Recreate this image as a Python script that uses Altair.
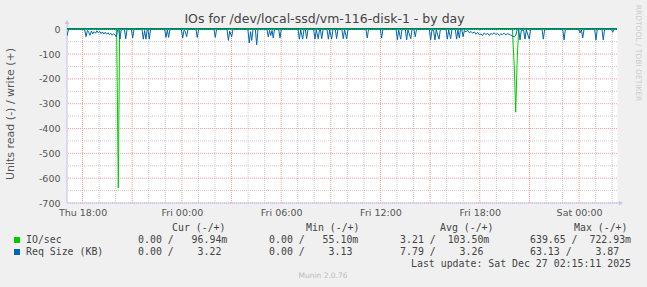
import altair as alt
import pandas as pd

# ---------------- data (time = hours since Thu 2025-12-25 00:00) ----------------
t_start, t_end = 17.06, 50.29

x_tick_hours = [18, 24, 30, 36, 42, 48]
x_tick_labels = ["Thu 18:00", "Fri 00:00", "Fri 06:00", "Fri 12:00", "Fri 18:00", "Sat 00:00"]
y_tick_values = [0, -100, -200, -300, -400, -500, -600, -700]

# IO/sec  (read drawn negative, write positive)
io_read_h = [17.06, 20.06, 20.16, 20.24, 43.97, 44.09, 44.17, 44.26, 44.35, 50.29]
io_read_v = [0, 0, -640, 0, 0, -160, -334, -120, 0, 0]
io_write_h = [17.06, 30.0, 44.0, 50.29]
io_write_v = [0.1, 0.1, 0.1, 0.1]

# Req Size (KB)
req_read_h = [
    17.06, 17.15,
    18.12, 18.21, 18.29, 18.37, 18.45, 18.54, 18.62, 18.70, 18.79, 18.87, 18.95, 19.04,
    19.12, 19.20, 19.29, 19.37, 19.45, 19.54, 19.62, 19.70, 19.79, 19.87, 19.95, 20.04, 20.12,
    20.18, 20.26, 20.34,
    20.53, 20.61, 20.69,
    20.95, 21.03, 21.11,
    21.59, 21.67, 21.75, 21.83, 21.91,
    21.95, 22.03, 22.11,
    22.96, 23.04, 23.12, 23.20, 23.28,
    23.97, 24.05, 24.13, 24.21, 24.29, 24.37,
    24.85, 24.93, 25.01,
    25.94, 26.02, 26.10,
    26.73, 26.81, 26.89, 27.01, 27.09,
    27.99, 28.07, 28.15, 28.22, 28.30,
    28.44, 28.52, 28.60,
    29.14, 29.22, 29.30, 29.37, 29.45, 29.52, 29.60,
    29.85, 29.93, 30.01,
    31.02, 31.10, 31.18, 31.30, 31.38,
    31.46, 31.54, 31.62,
    31.96, 32.04, 32.12, 32.24, 32.32,
    32.37, 32.45, 32.53,
    32.77, 32.85, 32.93, 33.05, 33.13,
    33.27, 33.35, 33.43,
    33.67, 33.75, 33.83, 33.96, 34.04,
    35.12, 35.20, 35.28,
    35.99, 36.07, 36.15,
    36.94, 37.02, 37.10, 37.22, 37.30,
    37.50, 37.58, 37.66, 37.83, 37.91,
    38.02, 38.10, 38.18,
    38.95, 39.03, 39.11, 39.21, 39.29, 39.37, 39.54, 39.62,
    39.96, 40.04, 40.12, 40.24, 40.32,
    40.52, 40.60, 40.68, 40.76, 40.84,
    40.91, 40.99, 41.07, 41.17, 41.27, 41.37, 41.47, 41.57, 41.67, 41.77, 41.87, 41.97,
    42.07, 42.17, 42.27, 42.37, 42.47, 42.57, 42.67, 42.77, 42.87, 42.97, 43.07, 43.17,
    43.27, 43.37, 43.47, 43.57, 43.67, 43.77, 43.87, 43.97, 44.09, 44.17, 44.27,
    44.35, 44.43, 44.51, 44.65, 44.73, 44.81, 44.99, 45.07,
    45.76, 45.84, 45.92,
    47.01, 47.09, 47.17,
    47.98, 48.06, 48.14, 48.22, 48.30,
    48.94, 49.02, 49.10,
    49.38, 49.46, 49.54,
    49.95, 50.03, 50.11, 50.29,
]
req_read_v = [
    -27, 0,
    0, -30, -5, -12, -24, -8, -18, -10, -16, -6, -14, -9,
    -17, -11, -19, -12, -20, -14, -22, -16, -24, -18, -22, -31, 0,
    0, -40, 0,
    0, -38, 0,
    0, -35, 0,
    0, -40, -5, -40, 0,
    0, -40, 0,
    0, -33, -3, -33, 0,
    0, -35, -4, -10, -30, 0,
    0, -33, 0,
    0, -33, 0,
    0, -45, -8, -30, 0,
    0, -55, -10, -45, 0,
    0, -63, 0,
    0, -30, -5, -25, -5, -35, 0,
    0, -35, 0,
    0, -40, -3, -40, 0,
    0, -38, 0,
    0, -40, -3, -38, 0,
    0, -38, 0,
    0, -40, -3, -40, 0,
    0, -38, 0,
    0, -38, -3, -38, 0,
    0, -35, 0,
    0, -35, 0,
    0, -43, -3, -40, 0,
    0, -43, -3, -38, 0,
    0, -30, 0,
    0, -43, -3, -5, -43, -3, -40, 0,
    0, -40, -3, -38, 0,
    0, -40, -3, -35, 0,
    0, -30, -6, -10, -5, -14, -9, -16, -11, -20, -13, -22,
    -19, -25, -15, -21, -17, -24, -18, -20, -14, -22, -17, -25,
    -19, -21, -16, -23, -18, -20, -24, -28, -30, -25, 0,
    0, -43, -3, -5, -40, -3, -40, 0,
    0, -40, 0,
    0, -43, 0,
    0, -15, -3, -35, 0,
    0, -43, 0,
    0, -43, 0,
    0, -12, 0, 0,
]
req_write_h = [17.06, 26.0, 35.0, 44.0, 50.29]
req_write_v = [3.2, 3.3, 3.2, 3.3, 3.22]

# legend table values
legend_names = ["IO/sec", "Req Size (KB)"]
legend_colors = ["#00cc00", "#0066b3"]
col_headers = ["Cur (-/+)", "Min (-/+)", "Avg (-/+)", "Max (-/+)"]
cur_vals = [("0.00", " ", "96.94", "m"), ("0.00", " ", "3.22", " ")]
min_vals = [("0.00", " ", "55.10", "m"), ("0.00", " ", "3.13", " ")]
avg_vals = [("3.21", " ", "103.50", "m"), ("7.79", " ", "3.26", " ")]
max_vals = [("639.65", " ", "722.93", "m"), ("63.13", " ", "3.87", " ")]
title_text = "IOs for /dev/local-ssd/vm-116-disk-1 - by day"
y_title_text = "Units read (-) / write (+)"
last_update_text = "Last update: Sat Dec 27 02:15:11 2025"
munin_text = "Munin 2.0.76"
rrd_text = "RRDTOOL / TOBI OETIKER"

# ---------------- styling ----------------
W, H = 550, 175
GREEN, BLUE = "#00cc00", "#0066b3"
RED_GRID = "#f4a0a0"
GRAY_GRID = "#cfcfcf"
AXIS_COL = "#c4c4ee"
TXT = "#555555"
NB = "\u00a0"

x_label_expr = " : ".join(
    f"datum.value == {h} ? '{l}'" for h, l in zip(x_tick_hours, x_tick_labels)
) + " : ''"

x_enc = alt.X(
    "h:Q",
    scale=alt.Scale(domain=[t_start, t_end], nice=False, zero=False),
    axis=alt.Axis(values=x_tick_hours, labelExpr=x_label_expr, title=None, grid=False,
                  ticks=False, domain=False, labelFont="DejaVu Sans", labelFontSize=9.5,
                  labelColor=TXT, labelPadding=4, labelFlush=False, labelOverlap=False),
)
y_enc = alt.Y(
    "v:Q",
    scale=alt.Scale(domain=[-700, 5], nice=False, zero=False),
    axis=alt.Axis(values=y_tick_values, labelExpr="'' + datum.value", title=None, grid=False,
                  ticks=False, domain=False, labelFont="DejaVu Sans", labelFontSize=9.5,
                  labelColor=TXT, labelPadding=7, labelOverlap=False),
)

major_x = [h for h in range(18, 51) if h % 3 == 0]
minor_x = [h for h in range(18, 51) if h % 3 != 0]
major_y = [-100, -200, -300, -400, -500, -600, -700]
minor_y = [-50, -150, -250, -350, -450, -550, -650]


def vrules(vals, color):
    return alt.Chart(pd.DataFrame({"h": vals})).mark_rule(
        color=color, strokeWidth=1, strokeDash=[1, 1]).encode(x=x_enc)


def hrules(vals, color):
    return alt.Chart(pd.DataFrame({"v": vals})).mark_rule(
        color=color, strokeWidth=1, strokeDash=[1, 1]).encode(y=y_enc)


def series(hs, vs, color):
    return alt.Chart(pd.DataFrame({"h": hs, "v": vs})).mark_line(
        color=color, strokeWidth=1, clip=True).encode(x=x_enc, y=y_enc)


ONE = alt.Data(values=[{}])


def txt(s, px, py, size=9.9, font="DejaVu Sans Mono", color="#444444", align="left", angle=0):
    kw = dict(font=font, fontSize=size, color=color, align=align, baseline="middle")
    if angle:
        kw["angle"] = angle
    return alt.Chart(ONE).mark_text(**kw).encode(
        x=alt.value(px), y=alt.value(py), text=alt.value(s))


def cell(r, rs, w, ws):
    s = f"{r:>6}{rs}/ {w:>7}{ws}"
    return s.replace(" ", NB)


layers = [
    vrules(minor_x, GRAY_GRID), hrules(minor_y, GRAY_GRID),
    vrules(major_x, RED_GRID), hrules(major_y, RED_GRID),
    alt.Chart(ONE).mark_rule(color=AXIS_COL).encode(x=alt.value(0), y=alt.value(H), y2=alt.value(-4)),
    alt.Chart(ONE).mark_rule(color=AXIS_COL).encode(x=alt.value(0), x2=alt.value(552), y=alt.value(H)),
    alt.Chart(ONE).mark_point(shape="triangle-up", filled=True, size=22, color=AXIS_COL, opacity=1).encode(
        x=alt.value(0), y=alt.value(-6)),
    alt.Chart(ONE).mark_point(shape="triangle-right", filled=True, size=22, color=AXIS_COL, opacity=1).encode(
        x=alt.value(554), y=alt.value(H)),
    series(io_read_h, io_read_v, GREEN),
    series(req_read_h, req_read_v, BLUE),
    alt.Chart(pd.DataFrame({"v": [0]})).mark_rule(color="#000000", strokeWidth=1, strokeDash=[1, 1]).encode(y=y_enc),
    series(io_write_h, io_write_v, GREEN),
    series(req_write_h, req_write_v, BLUE),
    # texts
    txt(title_text, 257.5, -9, size=12.5, font="DejaVu Sans", color="#444444", align="center"),
    txt(y_title_text, -56, 86, size=11, font="DejaVu Sans", color=TXT, align="center", angle=270),
    txt(rrd_text, 571, 25, size=7.5, font="DejaVu Sans", color="#cccccc", align="center", angle=90),
]

col_x = [71.1, 202.1, 333.1, 463.0]
head_x = [105, 239, 373, 507]
row_y = [212, 224]
for hx, ht in zip(head_x, col_headers):
    layers.append(txt(ht, hx, 199.7))
for i, (name, colr) in enumerate(zip(legend_names, legend_colors)):
    layers.append(alt.Chart(ONE).mark_square(size=36, color=colr, opacity=1).encode(
        x=alt.value(-50), y=alt.value(row_y[i])))
    layers.append(txt(name, -41, row_y[i]))
    for cx, vals in zip(col_x, [cur_vals, min_vals, avg_vals, max_vals]):
        layers.append(txt(cell(*vals[i]), cx, row_y[i]))
layers.append(txt(last_update_text, 344, 235.7))
layers.append(txt(munin_text, 256, 248, size=7.5, font="DejaVu Sans", color="#bbbbbb", align="center"))

chart = alt.layer(*layers).properties(
    width=W, height=H,
    autosize=alt.AutoSizeParams(type="none"),
    padding={"left": 67, "top": 28, "right": 30, "bottom": 84},
    background="#f0f0f0",
).configure_view(fill="white", stroke="transparent")

chart.save("out.html", embed_options={"renderer": "svg", "actions": False})
